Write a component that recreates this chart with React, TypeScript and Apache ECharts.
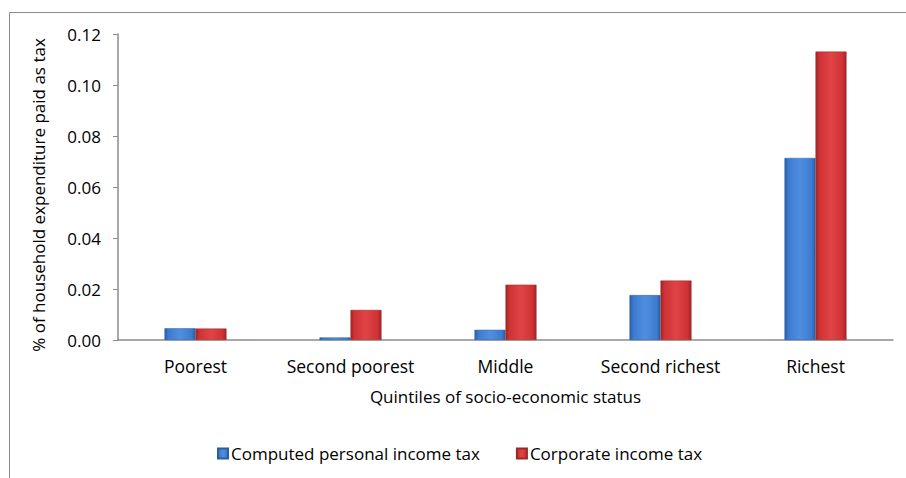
import React, { useEffect, useRef } from "react";
import * as echarts from "echarts";

const categories = ["Poorest", "Second poorest", "Middle", "Second richest", "Richest"];
const personalTax = [0.0046, 0.001, 0.004, 0.0176, 0.0714];
const corporateTax = [0.0045, 0.0118, 0.0217, 0.0233, 0.1131];
const seriesNames = ["Computed personal income tax", "Corporate income tax"];

const FONT = "Open Sans";

function barGradient(dark: string, mid: string, light: string) {
  return new echarts.graphic.LinearGradient(0, 0, 1, 0, [
    { offset: 0, color: dark },
    { offset: 0.12, color: mid },
    { offset: 0.5, color: light },
    { offset: 0.88, color: mid },
    { offset: 1, color: dark },
  ]);
}

export default function App() {
  const ref = useRef<HTMLDivElement>(null);
  useEffect(() => {
    if (!ref.current) return;
    const chart = echarts.init(ref.current, null, { renderer: "svg" });
    chart.setOption({
      animation: false,
      backgroundColor: "#ffffff",
      textStyle: { fontFamily: FONT },
      graphic: [
        {
          type: "rect",
          shape: { x: 9.5, y: 12.5, width: 1000, height: 1000 },
          style: { fill: "none", stroke: "#8c8c8c", lineWidth: 1 },
          silent: true,
        },
      ],
      grid: { left: 118, right: 13, top: 34, bottom: 138, containLabel: false },
      legend: {
        data: seriesNames,
        left: 212,
        top: 440,
        itemWidth: 10,
        itemHeight: 10,
        itemGap: 36,
        icon: "rect",
        textStyle: { fontFamily: FONT, fontSize: 17, color: "#000", padding: [0, 0, 0, -2] },
      },
      xAxis: {
        type: "category",
        data: categories,
        name: "Quintiles of socio-economic status",
        nameLocation: "middle",
        nameGap: 48,
        nameTextStyle: { fontFamily: FONT, fontSize: 17, color: "#000" },
        axisLine: { lineStyle: { color: "#8c8c8c", width: 1.5 } },
        axisTick: { show: false },
        axisLabel: { fontFamily: FONT, fontSize: 17.5, color: "#000", margin: 17, interval: 0 },
      },
      yAxis: {
        type: "value",
        min: 0,
        max: 0.12,
        interval: 0.02,
        name: "% of household expenditure paid as tax",
        nameLocation: "middle",
        nameGap: 71,
        nameTextStyle: { fontFamily: FONT, fontSize: 17, color: "#000", padding: [0, 16, 0, 0] },
        axisLine: { show: true, lineStyle: { color: "#8c8c8c", width: 1.5 } },
        axisTick: { show: true, length: 5, lineStyle: { color: "#8c8c8c" } },
        splitLine: { show: false },
        axisLabel: {
          fontFamily: FONT,
          fontSize: 17,
          color: "#000",
          margin: 17,
          formatter: (v: number) => v.toFixed(2),
        },
      },
      series: [
        {
          name: seriesNames[0],
          type: "bar",
          data: personalTax,
          barGap: "0%",
          barCategoryGap: "60%",
          itemStyle: {
            color: barGradient("#2a5fa6", "#3d7bd0", "#4f8fe0"),
            borderColor: "#2c5d9e",
            borderWidth: 0.5,
          },
        },
        {
          name: seriesNames[1],
          type: "bar",
          data: corporateTax,
          barGap: "0%",
          barCategoryGap: "60%",
          itemStyle: {
            color: barGradient("#9e2526", "#cf3234", "#e04446"),
            borderColor: "#9a2a2a",
            borderWidth: 0.5,
          },
        },
      ],
    });
    return () => chart.dispose();
  }, []);
  return (
    <div
      ref={ref}
      style={{ position: "fixed", left: 0, top: 0, width: 906, height: 478 }}
    />
  );
}
